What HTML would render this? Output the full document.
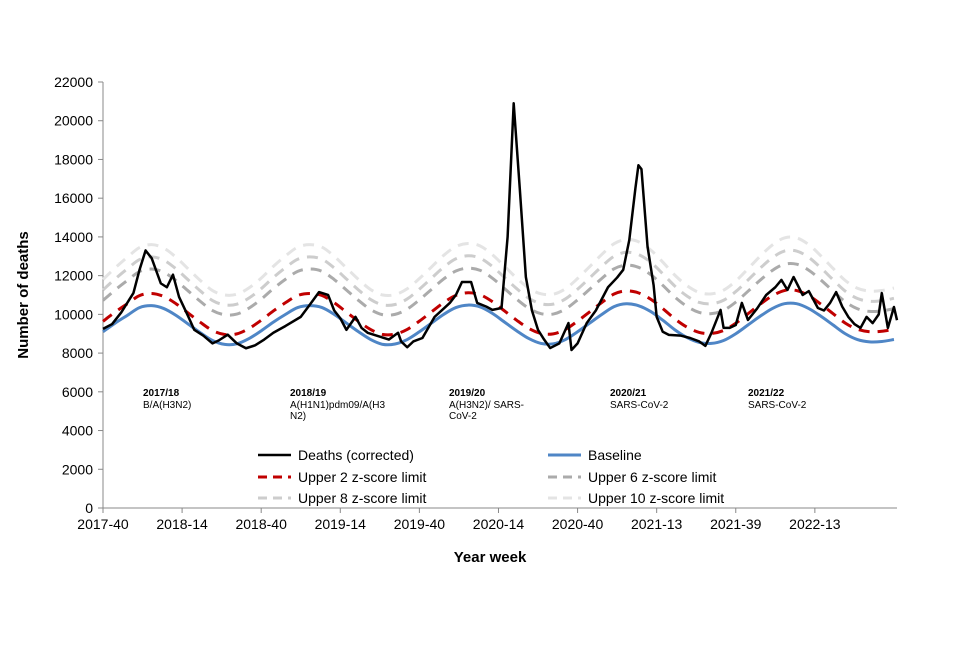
<!DOCTYPE html>
<html><head><meta charset="utf-8"><style>
body{margin:0;background:#fff;font-family:"Liberation Sans",Arial,sans-serif}
svg text{font-family:"Liberation Sans",Arial,sans-serif}
</style></head><body>
<svg id="chart" width="960" height="640" viewBox="0 0 960 640"></svg>
<script>
const xTickLabels=["2017-40","2018-14","2018-40","2019-14","2019-40","2020-14","2020-40","2021-13","2021-39","2022-13"];
const xTickWeeks=[0,26,52,78,104,130,156,182,208,234];
const yTicks=[0,2000,4000,6000,8000,10000,12000,14000,16000,18000,20000,22000];
const baseWeeks=[0,4,8,12,16,20,24,28,32,36,40,44,48,52,56,60,64,68,72,76,80,84,88,92,96,100,104,108,112,116,120,124,128,132,136,140,144,148,152,156,160,164,168,172,176,180,184,188,192,196,200,204,208,212,216,220,224,228,232,236,240,244,248,252,256,260];
const baseline=[9100,9550,9950,10350,10450,10300,9950,9500,9050,8650,8450,8480,8750,9150,9600,10000,10350,10450,10350,10000,9550,9100,8700,8450,8470,8700,9100,9550,10000,10350,10480,10380,10050,9600,9150,8750,8500,8480,8700,9100,9550,10000,10400,10550,10450,10150,9700,9200,8800,8550,8500,8650,9000,9450,9900,10300,10550,10550,10300,9900,9450,9000,8700,8580,8600,8700];
const sd=[270,285,300,310,315,312,300,285,270,258,255,256,262,272,288,302,312,315,312,300,285,270,258,255,255,262,275,290,305,315,318,315,303,288,272,260,256,256,262,275,292,310,325,332,330,318,300,282,268,258,256,260,272,290,310,328,340,340,330,312,292,275,265,262,263,266];
const deathWeeks=[0,3,6,10,12,14,16,19,21,23,25,28,30,33,36,38,41,44,47,50,53,56,60,65,68,71,74,76,78,80,83,85,87,90,94,97,98,100,102,105,109,112,114,116,118,121,123,126,128,131,133,135,137,139,141,143,145,147,150,153,154,156,159,162,166,169,171,173,175,176,177,179,181,182,184,186,190,193,196,198,200,203,204,206,208,210,212,215,218,221,223,225,227,230,232,235,237,239,241,243,245,247,249,251,253,255,256,258,260,261];
const deaths=[9250,9500,10100,11100,12300,13300,12900,11600,11400,12050,10900,9900,9200,8900,8500,8650,8950,8500,8250,8400,8700,9050,9400,9870,10500,11150,11000,10200,9800,9200,9870,9300,9050,8900,8700,9050,8600,8300,8600,8780,9870,10300,10590,11000,11670,11670,10590,10400,10230,10330,14000,20900,16500,11930,10200,9200,8700,8260,8500,9550,8160,8500,9550,10200,11400,11900,12300,13840,16500,17700,17500,13500,11500,9870,9100,8940,8900,8780,8600,8370,9040,10230,9300,9300,9450,10590,9710,10300,11000,11400,11780,11260,11930,11000,11200,10330,10200,10590,11150,10400,9870,9500,9300,9870,9550,10000,11100,9300,10380,9700];
const NS="http://www.w3.org/2000/svg";
const svg=document.getElementById('chart');
const X0=103,X1=897,Y0=508,Y1=82,WMAX=261,YMAX=22000;
const xs=w=>X0+(X1-X0)*w/WMAX;
const ys=v=>Y0-(Y0-Y1)*v/YMAX;
function mk(tag,attrs,parent){const e=document.createElementNS(NS,tag);for(const k in attrs)e.setAttribute(k,attrs[k]);(parent||svg).appendChild(e);return e;}
function smooth(pts){let d=`M${pts[0][0]},${pts[0][1]}`;for(let i=0;i<pts.length-1;i++){const p0=pts[Math.max(0,i-1)],p1=pts[i],p2=pts[i+1],p3=pts[Math.min(pts.length-1,i+2)];d+=` C${p1[0]+(p2[0]-p0[0])/6},${p1[1]+(p2[1]-p0[1])/6} ${p2[0]-(p3[0]-p1[0])/6},${p2[1]-(p3[1]-p1[1])/6} ${p2[0]},${p2[1]}`;}return d;}
// axes
const ax=mk('line',{x1:X0,y1:Y0,x2:X1,y2:Y0,stroke:'#888','stroke-width':1});

const ay=mk('line',{x1:X0,y1:Y0,x2:X0,y2:Y1,stroke:'#888','stroke-width':1});

yTicks.forEach(v=>{const t=mk('line',{x1:X0-5,x2:X0,y1:ys(v),y2:ys(v),stroke:'#888'});

const l=mk('text',{x:X0-10,y:ys(v)+5,'text-anchor':'end','font-size':14,fill:'#000'});l.textContent=v;
});
xTickWeeks.forEach((w,i)=>{const t=mk('line',{x1:xs(w),x2:xs(w),y1:Y0,y2:Y0+5,stroke:'#888'});

const l=mk('text',{x:xs(w),y:Y0+21,'text-anchor':'middle','font-size':14,fill:'#000'});l.textContent=xTickLabels[i];
});
const xt=mk('text',{x:490,y:562,'text-anchor':'middle','font-size':15,'font-weight':'bold'});xt.textContent='Year week';

const yt=mk('text',{x:28,y:295,'text-anchor':'middle','font-size':15,'font-weight':'bold',transform:'rotate(-90 28 295)'});yt.textContent='Number of deaths';

// limit series
const limits=[[10,'#e4e4e4','upper-10-z-line'],[8,'#cdcdcd','upper-8-z-line'],[6,'#ababab','upper-6-z-line'],[2,'#c00000','upper-2-z-line']];
limits.forEach(([k,c,n])=>{const pts=baseWeeks.map((w,i)=>[xs(w),ys(baseline[i]+k*sd[i])]);
const p=mk('path',{d:smooth(pts),fill:'none',stroke:c,'stroke-width':3,'stroke-dasharray':'11 8'});
});
const bp=mk('path',{d:smooth(baseWeeks.map((w,i)=>[xs(w),ys(baseline[i])])),fill:'none',stroke:'#4f86c6','stroke-width':3});

const dp=mk('path',{d:'M'+deathWeeks.map((w,i)=>xs(w)+','+ys(deaths[i])).join(' L'),fill:'none',stroke:'#000','stroke-width':2.5,'stroke-linejoin':'round'});

// annotations
const ann=[[143,'2017/18',['B/A(H3N2)']],[290,'2018/19',['A(H1N1)pdm09/A(H3','N2)']],[449,'2019/20',['A(H3N2)/ SARS-','CoV-2']],[610,'2020/21',['SARS-CoV-2']],[748,'2021/22',['SARS-CoV-2']]];
ann.forEach(([x,h,ls])=>{const t=mk('text',{x:x,y:396,'font-size':10,'font-weight':'bold'});t.textContent=h;

ls.forEach((s,j)=>{const u=mk('text',{x:x,y:408+j*11,'font-size':10});u.textContent=s;
});});
// legend
const leg=[[258,455,'#000','none',2.5,'Deaths (corrected)'],[548,455,'#4f86c6','none',3,'Baseline'],[258,477,'#c00000','9 6',3,'Upper 2 z-score limit'],[548,477,'#ababab','9 6',3,'Upper 6 z-score limit'],[258,498,'#cdcdcd','9 6',3,'Upper 8 z-score limit'],[548,498,'#e4e4e4','9 6',3,'Upper 10 z-score limit']];
leg.forEach(([x,y,c,da,w,s])=>{const g=mk('g',{});

mk('line',{x1:x,x2:x+33,y1:y,y2:y,stroke:c,'stroke-width':w,'stroke-dasharray':da},g);
const t=mk('text',{x:x+40,y:y+5,'font-size':14},g);t.textContent=s;});
</script>
</body></html>
